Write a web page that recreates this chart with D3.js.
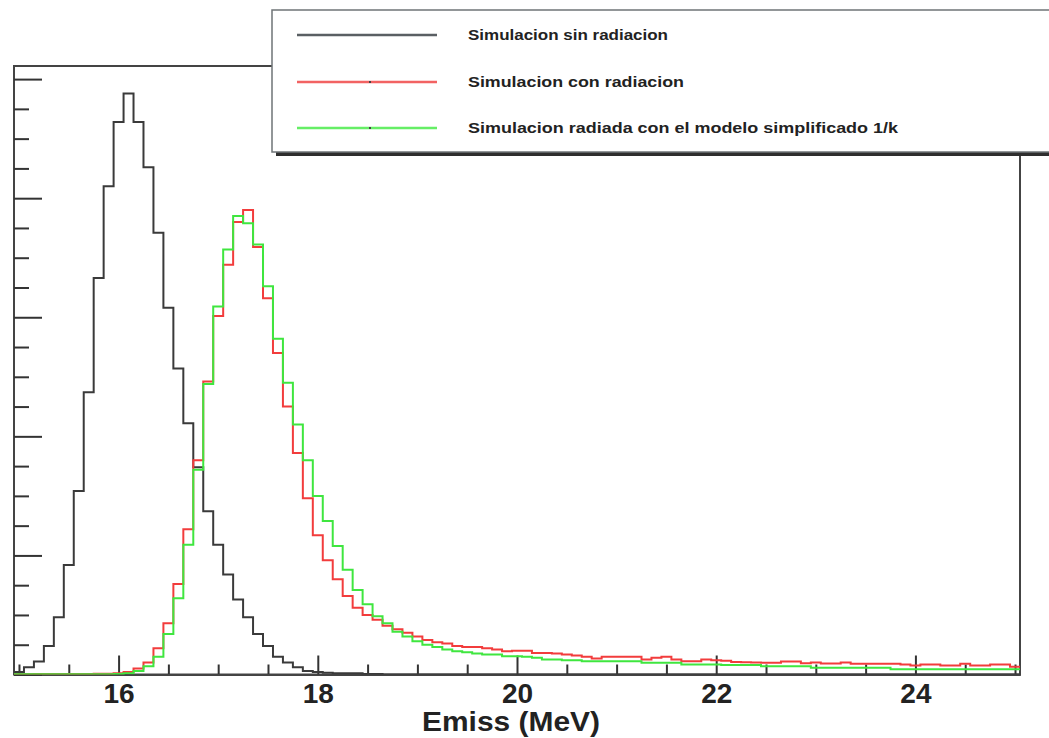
<!DOCTYPE html>
<html>
<head>
<meta charset="utf-8">
<script src="https://cdn.jsdelivr.net/npm/d3@7"></script>
<style>
  html, body { margin: 0; padding: 0; background: #fff; }
  svg { display: block; font-family: "Liberation Sans", Arial, sans-serif; }
</style>
</head>
<body>
<div id="chart"></div>
<script>
// histogram: 101 bins of 0.1 MeV, first bin centred on 15.0
const binLow = 14.95;
const binWidth = 0.1;

// Simulacion sin radiacion (counts in units of the major y tick)
const sinRadiacion = [
  0.02, 0.06, 0.11, 0.24, 0.48, 0.92, 1.54, 2.37, 3.33, 4.10,
  4.64, 4.88, 4.64, 4.26, 3.71, 3.08, 2.57, 2.11, 1.74, 1.37,
  1.09, 0.84, 0.63, 0.48, 0.34, 0.24, 0.15, 0.10, 0.06, 0.03,
  0.02, 0.015, 0.01, 0.01, 0.01, 0.005, 0.005, 0, 0, 0,
  0, 0, 0, 0, 0, 0, 0, 0, 0, 0,
  0, 0, 0, 0, 0, 0, 0, 0, 0, 0,
  0, 0, 0, 0, 0, 0, 0, 0, 0, 0,
  0, 0, 0, 0, 0, 0, 0, 0, 0, 0,
  0, 0, 0, 0, 0, 0, 0, 0, 0, 0,
  0, 0, 0, 0, 0, 0, 0, 0, 0, 0,
  0
];

// Simulacion con radiacion
const conRadiacion = [
  0.003, 0.003, 0.004, 0.004, 0.005, 0.005, 0.005, 0.005, 0.006, 0.006,
  0.01, 0.02, 0.05, 0.10, 0.22, 0.43, 0.76, 1.22, 1.80, 2.46,
  3.01, 3.44, 3.80, 3.90, 3.59, 3.16, 2.70, 2.25, 1.86, 1.48,
  1.17, 0.96, 0.80, 0.66, 0.56, 0.50, 0.46, 0.41, 0.38, 0.35,
  0.32, 0.29, 0.27, 0.26, 0.24, 0.23, 0.23, 0.22, 0.21, 0.195,
  0.20, 0.20, 0.18, 0.18, 0.176, 0.168, 0.16, 0.15, 0.134, 0.15,
  0.15, 0.15, 0.15, 0.126, 0.14, 0.15, 0.126, 0.112, 0.112, 0.126,
  0.12, 0.115, 0.105, 0.103, 0.10, 0.098, 0.098, 0.11, 0.11, 0.095,
  0.10, 0.092, 0.092, 0.10, 0.09, 0.09, 0.09, 0.09, 0.09, 0.084,
  0.075, 0.084, 0.084, 0.075, 0.075, 0.09, 0.075, 0.075, 0.084, 0.084,
  0.065
];

// Simulacion radiada con el modelo simplificado 1/k
const modelo1k = [
  0.002, 0.002, 0.002, 0.002, 0.002, 0.003, 0.003, 0.003, 0.003, 0.003,
  0.004, 0.01, 0.03, 0.07, 0.15, 0.34, 0.64, 1.09, 1.72, 2.44,
  3.09, 3.57, 3.85, 3.79, 3.61, 3.26, 2.82, 2.45, 2.10, 1.80,
  1.50, 1.29, 1.08, 0.88, 0.71, 0.59, 0.49, 0.43, 0.36, 0.32,
  0.28, 0.25, 0.23, 0.21, 0.195, 0.187, 0.176, 0.168, 0.168, 0.154,
  0.154, 0.15, 0.14, 0.126, 0.126, 0.12, 0.12, 0.112, 0.112, 0.112,
  0.112, 0.112, 0.112, 0.098, 0.098, 0.098, 0.098, 0.085, 0.085, 0.085,
  0.085, 0.08, 0.08, 0.08, 0.08, 0.07, 0.07, 0.07, 0.07, 0.07,
  0.056, 0.056, 0.056, 0.056, 0.056, 0.056, 0.056, 0.056, 0.045, 0.045,
  0.045, 0.045, 0.045, 0.045, 0.045, 0.045, 0.045, 0.045, 0.045, 0.045,
  0.045
];

const xMajorTicks = [16, 18, 20, 22, 24];
const yMajorTicks = [0, 1, 2, 3, 4, 5];
const xTitle = "Emiss (MeV)";

const legendLabels = [
  "Simulacion sin radiacion",
  "Simulacion con radiacion",
  "Simulacion radiada con el modelo simplificado 1/k"
];
const seriesColors = ["#3a3a3a", "#f23c3c", "#3fe63f"];
const legendLineColors = ["#5a5f63", "#f26262", "#66ee66"];
const legendTextWidths = [200, 216, 430];

const width = 1049;
const height = 738;
const frame = { left: 14, right: 1020, top: 66, bottom: 674.5 };

const svg = d3.select("#chart").append("svg")
  .attr("width", width)
  .attr("height", height)
  .style("background", "white");

const x = d3.scaleLinear()
  .domain([binLow, binLow + binWidth * sinRadiacion.length])
  .range([frame.left, frame.right]);
const y = d3.scaleLinear()
  .domain([0, 5.11])
  .range([frame.bottom, frame.top]);

svg.append("defs").append("clipPath").attr("id", "frameClip")
  .append("rect")
  .attr("x", frame.left).attr("y", frame.top)
  .attr("width", frame.right - frame.left)
  .attr("height", frame.bottom - frame.top);

// frame
svg.append("rect")
  .attr("x", frame.left).attr("y", frame.top)
  .attr("width", frame.right - frame.left)
  .attr("height", frame.bottom - frame.top)
  .attr("fill", "none")
  .attr("stroke", "#444")
  .attr("stroke-width", 2);

// x axis (ticks point up into the frame)
const minorX = d3.range(15, 25.01, 0.5).filter(v => !xMajorTicks.includes(v));
const xMinorAxis = svg.append("g")
  .attr("transform", `translate(0,${frame.bottom})`)
  .call(d3.axisBottom(x).tickValues(minorX).tickSizeInner(-10).tickSizeOuter(0).tickFormat(""));
const xAxis = svg.append("g")
  .attr("transform", `translate(0,${frame.bottom})`)
  .call(d3.axisBottom(x).tickValues(xMajorTicks).tickSizeInner(-19).tickSizeOuter(0).tickPadding(8.5).tickFormat(d3.format("d")));
[xMinorAxis, xAxis].forEach(g => {
  g.select(".domain").attr("stroke", "#444").attr("stroke-width", 2);
  g.selectAll(".tick line").attr("stroke", "#333").attr("stroke-width", 2);
});
xAxis.selectAll("text")
  .attr("fill", "#222")
  .style("font-size", "28px")
  .style("font-weight", "bold")
  .style("font-family", "'Liberation Sans', Arial, sans-serif");

svg.append("text")
  .attr("x", 511)
  .attr("y", 731)
  .attr("text-anchor", "middle")
  .attr("textLength", 178)
  .attr("lengthAdjust", "spacingAndGlyphs")
  .attr("fill", "#222")
  .style("font-size", "28px")
  .style("font-weight", "bold")
  .text(xTitle);

// y axis, no labels, ticks to the right
const minorY = d3.range(0.25, 5.11, 0.25).filter(v => !yMajorTicks.includes(v));
[[minorY, 15], [yMajorTicks, 28]].forEach(([vals, len]) => {
  const g = svg.append("g")
    .attr("transform", `translate(${frame.left},0)`)
    .call(d3.axisRight(y).tickValues(vals).tickSize(len).tickFormat(""));
  g.select(".domain").remove();
  g.selectAll(".tick line").attr("stroke", "#333").attr("stroke-width", 2);
});

// histograms as step outlines
const series = [sinRadiacion, conRadiacion, modelo1k];
const stepLine = d3.line()
  .x(d => x(d[0]))
  .y(d => y(d[1]))
  .curve(d3.curveStepAfter);

const histGroup = svg.append("g").attr("clip-path", "url(#frameClip)");
series.forEach((vals, i) => {
  const pts = [[binLow, 0]];
  vals.forEach((v, k) => pts.push([binLow + k * binWidth, v]));
  pts.push([binLow + vals.length * binWidth, vals[vals.length - 1]]);
  histGroup.append("path")
    .attr("d", stepLine(pts))
    .attr("fill", "none")
    .attr("stroke", seriesColors[i])
    .attr("stroke-width", 2);
});

// legend box with shadow
const legend = svg.append("g");
legend.append("rect")
  .attr("x", 276).attr("y", 14)
  .attr("width", 800).attr("height", 142)
  .attr("fill", "#2e2e2e");
legend.append("rect")
  .attr("x", 272).attr("y", 10)
  .attr("width", 800).attr("height", 142)
  .attr("fill", "white")
  .attr("stroke", "#6f7477")
  .attr("stroke-width", 1.5);

const legendRows = [35, 82, 128];
legendLabels.forEach((label, i) => {
  legend.append("line")
    .attr("x1", 297).attr("x2", 437)
    .attr("y1", legendRows[i]).attr("y2", legendRows[i])
    .attr("stroke", legendLineColors[i])
    .attr("stroke-width", 2.5);
  if (i > 0) {
    legend.append("rect")
      .attr("x", 369).attr("y", legendRows[i] - 1)
      .attr("width", 2).attr("height", 2)
      .attr("fill", "#444");
  }
  legend.append("text")
    .attr("x", 468)
    .attr("y", legendRows[i] + 5)
    .attr("textLength", legendTextWidths[i])
    .attr("lengthAdjust", "spacingAndGlyphs")
    .attr("fill", "#222")
    .style("font-size", "15px")
    .style("font-weight", "bold")
    .text(label);
});
</script>
</body>
</html>
